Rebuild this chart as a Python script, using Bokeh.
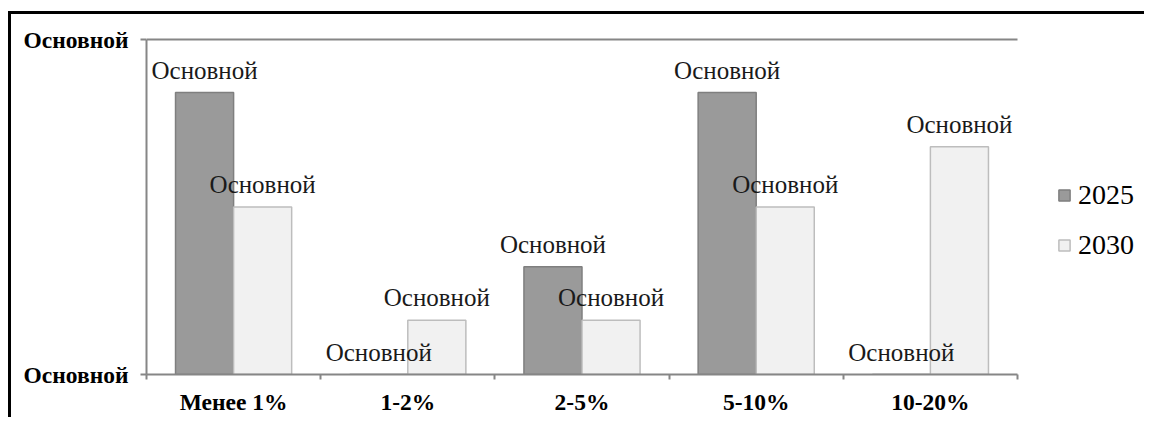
from bokeh.plotting import figure
from bokeh.models import (ColumnDataSource, Range1d, FixedTicker, Legend, LegendItem,
                          LabelSet)
from bokeh.embed import file_html
from bokeh.resources import INLINE

categories = ["Менее 1%", "1-2%", "2-5%", "5-10%", "10-20%"]
series_names = ["2025", "2030"]
values_2025 = [5.05, 0, 1.93, 5.05, 0]
values_2030 = [3.0, 0.97, 0.97, 3.0, 4.08]
y_ticks = [0, 6]
y_tick_labels = ["Основной", "Основной"]
bar_label = "Основной"

FONT = "'Liberation Serif', serif"
n = len(categories)
centers = [i + 0.5 for i in range(n)]
bw = 1 / 3

# layout (pixels)
plot_w = 871          # width of the category area
legend_w = 127        # room on the right for the legend
plot_h = 335
top_pad = 2

src25 = ColumnDataSource(dict(x=[c - bw / 2 for c in centers], top=values_2025,
                              lab=[bar_label] * n))
src30 = ColumnDataSource(dict(x=[c + bw / 2 for c in centers], top=values_2030,
                              lab=[bar_label] * n))

ymax = y_ticks[-1]
p = figure(frame_width=plot_w + legend_w, frame_height=plot_h + top_pad,
           output_backend="svg", toolbar_location=None,
           x_range=Range1d(0, n * (plot_w + legend_w) / plot_w),
           y_range=Range1d(y_ticks[0], ymax * (plot_h + top_pad) / plot_h),
           min_border_left=135, min_border_right=0, min_border_top=23,
           min_border_bottom=40)
p.styles = {"border-top": "3px solid black", "border-left": "3px solid black",
            "margin-top": "11px", "margin-left": "8px"}
p.outline_line_color = None
p.background_fill_color = "white"
p.xgrid.visible = False
p.ygrid.visible = False

# top gridline at axis maximum
p.segment(x0=[0], y0=[ymax], x1=[n], y1=[ymax], line_color="#868686", line_width=2)

r25 = p.vbar(x="x", top="top", width=bw, source=src25, fill_color="#9a9a9a",
             line_color="#7f7f7f", line_width=1.5)
r30 = p.vbar(x="x", top="top", width=bw, source=src30, fill_color="#f1f1f1",
             line_color="#bdbdbd", line_width=1.5)

for s in (src25, src30):
    p.add_layout(LabelSet(x="x", y="top", text="lab", source=s, text_align="center",
                          text_baseline="alphabetic", y_offset=14,
                          text_font=FONT, text_font_size="25px", text_color="#1a1a1a"))

# axes
p.xaxis.bounds = (0, n)
p.xaxis.ticker = FixedTicker(ticks=centers, minor_ticks=list(range(n + 1)))
p.xaxis.major_label_overrides = {c: cat for c, cat in zip(centers, categories)}
p.xaxis.major_tick_out = 0
p.xaxis.major_tick_in = 0
p.xaxis.minor_tick_out = 5
p.xaxis.minor_tick_in = 0
p.xaxis.minor_tick_line_color = "#868686"
p.xaxis.minor_tick_line_width = 2
p.xaxis.major_label_standoff = 9
p.xaxis.major_label_text_font = FONT
p.xaxis.major_label_text_font_size = "23.5px"
p.xaxis.major_label_text_font_style = "bold"
p.xaxis.major_label_text_color = "black"
p.xaxis.axis_line_color = "#868686"
p.xaxis.axis_line_width = 2

p.yaxis.bounds = (y_ticks[0], ymax)
p.yaxis.ticker = FixedTicker(ticks=y_ticks, minor_ticks=[])
p.yaxis.major_label_overrides = {t: l for t, l in zip(y_ticks, y_tick_labels)}
p.yaxis.major_tick_out = 6
p.yaxis.major_tick_in = 0
p.yaxis.major_tick_line_color = "#868686"
p.yaxis.major_tick_line_width = 2
p.yaxis.minor_tick_out = 0
p.yaxis.major_label_standoff = 12
p.yaxis.major_label_text_font = FONT
p.yaxis.major_label_text_font_size = "23.5px"
p.yaxis.major_label_text_font_style = "bold"
p.yaxis.major_label_text_color = "black"
p.yaxis.axis_line_color = "#868686"
p.yaxis.axis_line_width = 2

legend = Legend(items=[LegendItem(label=series_names[0], renderers=[r25]),
                       LegendItem(label=series_names[1], renderers=[r30])],
                location=(plot_w + 40, 113), margin=0, padding=0, spacing=18,
                glyph_width=14, glyph_height=14, label_standoff=7,
                label_text_font=FONT, label_text_font_size="28px",
                label_text_color="black", border_line_color=None,
                background_fill_alpha=0)
p.add_layout(legend, "center")

open("out.html", "w").write(file_html(p, INLINE))
